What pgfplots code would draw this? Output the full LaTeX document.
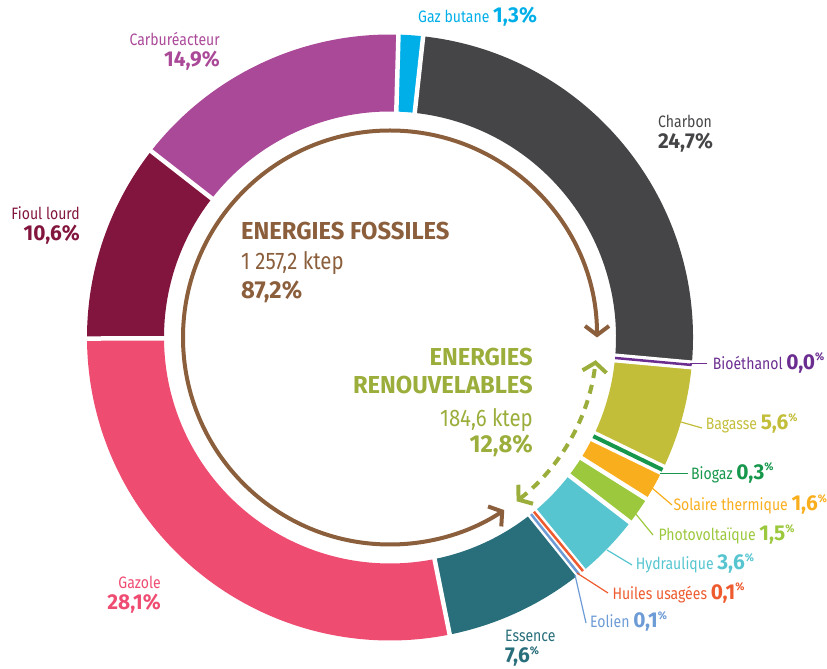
\documentclass[border=0pt]{standalone}
\usepackage{pgfplots}
\pgfplotsset{compat=1.18}
\usepackage{fontspec}
\setmainfont{Fira Sans}[FakeStretch=0.85]
\newfontfamily\bfam{Fira Sans}[FakeStretch=0.97]
\usetikzlibrary{arrows.meta}

\definecolor{gaz}{HTML}{00AEE8}
\definecolor{charbon}{HTML}{454548}
\definecolor{bioeth}{HTML}{6B2D90}
\definecolor{bagasse}{HTML}{C3BE3A}
\definecolor{biogaz}{HTML}{17974B}
\definecolor{solaire}{HTML}{F9AE1D}
\definecolor{photo}{HTML}{9CC83D}
\definecolor{hydro}{HTML}{56C5D0}
\definecolor{huiles}{HTML}{EE5B2F}
\definecolor{eolien}{HTML}{6C9BD5}
\definecolor{essence}{HTML}{286E7B}
\definecolor{gazole}{HTML}{EF4C72}
\definecolor{fioul}{HTML}{82153D}
\definecolor{carbu}{HTML}{AB4999}
\definecolor{brownc}{HTML}{8B5E3C}
\definecolor{olivec}{HTML}{9BAE3B}

\newcommand\rl{\fontsize{16.5}{18}\selectfont}
\newcommand\bl{\bfam\fontsize{21.5}{24}\selectfont\bfseries}
\newcommand\pct{\raisebox{8.5pt}{\fontsize{11}{12}\selectfont\bfseries\%}}
\newcommand\ctr{\fontsize{24}{27}\selectfont}
\newcommand\ctb{\bfam\fontsize{24.5}{27}\selectfont\bfseries}

% value, colour, white gap width (tiny slices), line width (tiny), angle offset
\newcommand\chartdata{%
 \SL{1.3}{gaz}{0}{0}{0}%
 \SL{24.7}{charbon}{0}{0}{0}%
 \SL{0.0}{bioeth}{9}{2.5}{0}%
 \SL{5.6}{bagasse}{0}{0}{0}%
 \SL{0.3}{biogaz}{11}{4}{0}%
 \SL{1.6}{solaire}{0}{0}{0}%
 \SL{1.5}{photo}{0}{0}{0}%
 \SL{3.6}{hydro}{0}{0}{0}%
 \SL{0.1}{huiles}{10}{2.5}{0.3}%
 \SL{0.1}{eolien}{10}{2.5}{-0.3}%
 \SL{7.6}{essence}{0}{0}{0}%
 \SL{28.1}{gazole}{0}{0}{0}%
 \SL{10.6}{fioul}{0}{0}{0}%
 \SL{14.9}{carbu}{0}{0}{0}}

\newcommand\angs[1]{%
 \pgfmathsetmacro\aS{\curang}%
 \pgfmathsetmacro\aE{\curang-3.6*#1}%
 \pgfmathsetmacro\aM{(\aS+\aE)/2}%
 \xdef\curang{\aE}}

\newcommand\Sfill[5]{\angs{#1}%
 \ifdim#3pt=0pt
  \edef\tmp{\noexpand\fill[#2,shift={(axis cs:390,331.5)}] (\aS:303pt) arc[start angle=\aS,end angle=\aE,radius=303pt] -- (\aE:226pt) arc[start angle=\aE,end angle=\aS,radius=226pt] -- cycle;}\tmp
 \fi}

\newcommand\Ssep[5]{\angs{#1}%
 \edef\tmp{\noexpand\draw[white,line width=4.5pt,shift={(axis cs:390,331.5)}] (\aE:222pt) -- (\aE:307pt);}\tmp
 \ifdim#3pt>0pt
  \edef\tmp{\noexpand\draw[white,line width=#3pt,shift={(axis cs:390,331.5)}] (\aM:222pt) -- (\aM:307pt);}\tmp
 \fi}

\newcommand\Sline[5]{\angs{#1}%
 \ifdim#3pt>0pt
  \pgfmathsetmacro\aL{\aM+#5}%
  \edef\tmp{\noexpand\draw[#2,line width=#4pt,shift={(axis cs:390,331.5)}] (\aL:226pt) -- (\aL:303pt);}\tmp
 \fi}

\begin{document}
\begin{tikzpicture}
\useasboundingbox (0,0) rectangle (827pt,669pt);
\begin{axis}[hide axis, scale only axis, width=827pt, height=669pt,
  xmin=0, xmax=827, ymin=0, ymax=669, clip=false, at={(0,0)}, anchor=south west]
\addplot[draw=none] coordinates {(0,0) (827,669)};

\gdef\curang{88.4}\let\SL\Sfill\chartdata
\gdef\curang{88.4}\let\SL\Ssep\chartdata
\gdef\curang{88.4}\let\SL\Sline\chartdata

% arrows
\draw[brownc, line width=4pt, {Straight Barb[length=9pt,width=24pt]}-{Straight Barb[length=9pt,width=24pt]}, shift={(axis cs:390,331.5)}] (0:207pt) arc[start angle=0,end angle=303.5,radius=207pt];
\draw[olivec, line width=4pt, dash pattern=on 9pt off 7pt, {Straight Barb[length=9pt,width=24pt]}-{Straight Barb[length=9pt,width=24pt]}, shift={(axis cs:390,331.5)}] (-52.3:207pt) arc[start angle=-52.3,end angle=-6.3,radius=207pt];

% leader lines
\draw[bioeth, line width=1.2pt] (axis cs:690,305.5) -- (axis cs:707,305.5);
\draw[bagasse, line width=1.2pt] (axis cs:681,247) -- (axis cs:702,241);
\draw[biogaz, line width=1.2pt] (axis cs:660,195.7) -- (axis cs:688,195.7);
\draw[solaire, line width=1.2pt] (axis cs:645,187) -- (axis cs:672,164);
\draw[photo, line width=1.2pt] (axis cs:635,156) -- (axis cs:653,134);
\draw[hydro, line width=1.2pt] (axis cs:607,119) -- (axis cs:632,104);
\draw[huiles, line width=1.2pt] (axis cs:577,96) -- (axis cs:580,94) -- (axis cs:608,76);
\draw[eolien, line width=1.2pt] (axis cs:575,94) -- (axis cs:586,46);

% fossil labels
\node[anchor=base west, inner sep=0, text=gaz] at (axis cs:418,646) {\rl Gaz butane \bl 1,3\%};
\node[anchor=base east, inner sep=0, text=carbu] at (axis cs:220,623) {\rl Carburéacteur};
\node[anchor=base east, inner sep=0, text=carbu] at (axis cs:220,602.3) {\bl 14,9\%};
\node[anchor=base west, inner sep=0, text=charbon] at (axis cs:658,541.7) {\rl Charbon};
\node[anchor=base west, inner sep=0, text=charbon] at (axis cs:658,520) {\bl 24,7\%};
\node[anchor=base east, inner sep=0, text=fioul] at (axis cs:80,449) {\rl Fioul lourd};
\node[anchor=base east, inner sep=0, text=fioul] at (axis cs:80,428.3) {\bl 10,6\%};
\node[anchor=base east, inner sep=0, text=gazole] at (axis cs:161,80.7) {\rl Gazole};
\node[anchor=base east, inner sep=0, text=gazole] at (axis cs:161,59) {\bl 28,1\%};
\node[anchor=base west, inner sep=0, text=essence] at (axis cs:505,27) {\rl Essence};
\node[anchor=base west, inner sep=0, text=essence] at (axis cs:505,6) {\bl 7,6\pct};

% renewable labels
\node[anchor=base west, inner sep=0, text=bioeth] at (axis cs:712.7,299.7) {\rl Bioéthanol \bl 0,0\pct};
\node[anchor=base west, inner sep=0, text=bagasse] at (axis cs:705.7,239) {\rl Bagasse \bl 5,6\pct};
\node[anchor=base west, inner sep=0, text=biogaz] at (axis cs:691,189.7) {\rl Biogaz \bl 0,3\pct};
\node[anchor=base west, inner sep=0, text=solaire] at (axis cs:673.3,158.3) {\rl Solaire thermique \bl 1,6\pct};
\node[anchor=base west, inner sep=0, text=photo] at (axis cs:658.3,128.3) {\rl Photovoltaïque \bl 1,5\pct};
\node[anchor=base west, inner sep=0, text=hydro] at (axis cs:635.7,99) {\rl Hydraulique \bl 3,6\pct};
\node[anchor=base west, inner sep=0, text=huiles] at (axis cs:612.3,69.7) {\rl Huiles usagées \bl 0,1\pct};
\node[anchor=base west, inner sep=0, text=eolien] at (axis cs:590,41.3) {\rl Eolien \bl 0,1\pct};

% centre texts
\node[anchor=base west, inner sep=0, text=brownc] at (axis cs:241,429) {\ctb ENERGIES FOSSILES};
\node[anchor=base west, inner sep=0, text=brownc] at (axis cs:241,399.5) {\ctr 1 257,2 ktep};
\node[anchor=base west, inner sep=0, text=brownc] at (axis cs:241,370) {\ctb 87,2\%};
\node[anchor=base east, inner sep=0, text=olivec] at (axis cs:533,303) {\ctb ENERGIES};
\node[anchor=base east, inner sep=0, text=olivec] at (axis cs:533,275) {\ctb RENOUVELABLES};
\node[anchor=base east, inner sep=0, text=olivec] at (axis cs:533,242) {\ctr 184,6 ktep};
\node[anchor=base east, inner sep=0, text=olivec] at (axis cs:533,216) {\ctb 12,8\%};
\end{axis}
\end{tikzpicture}
\end{document}
